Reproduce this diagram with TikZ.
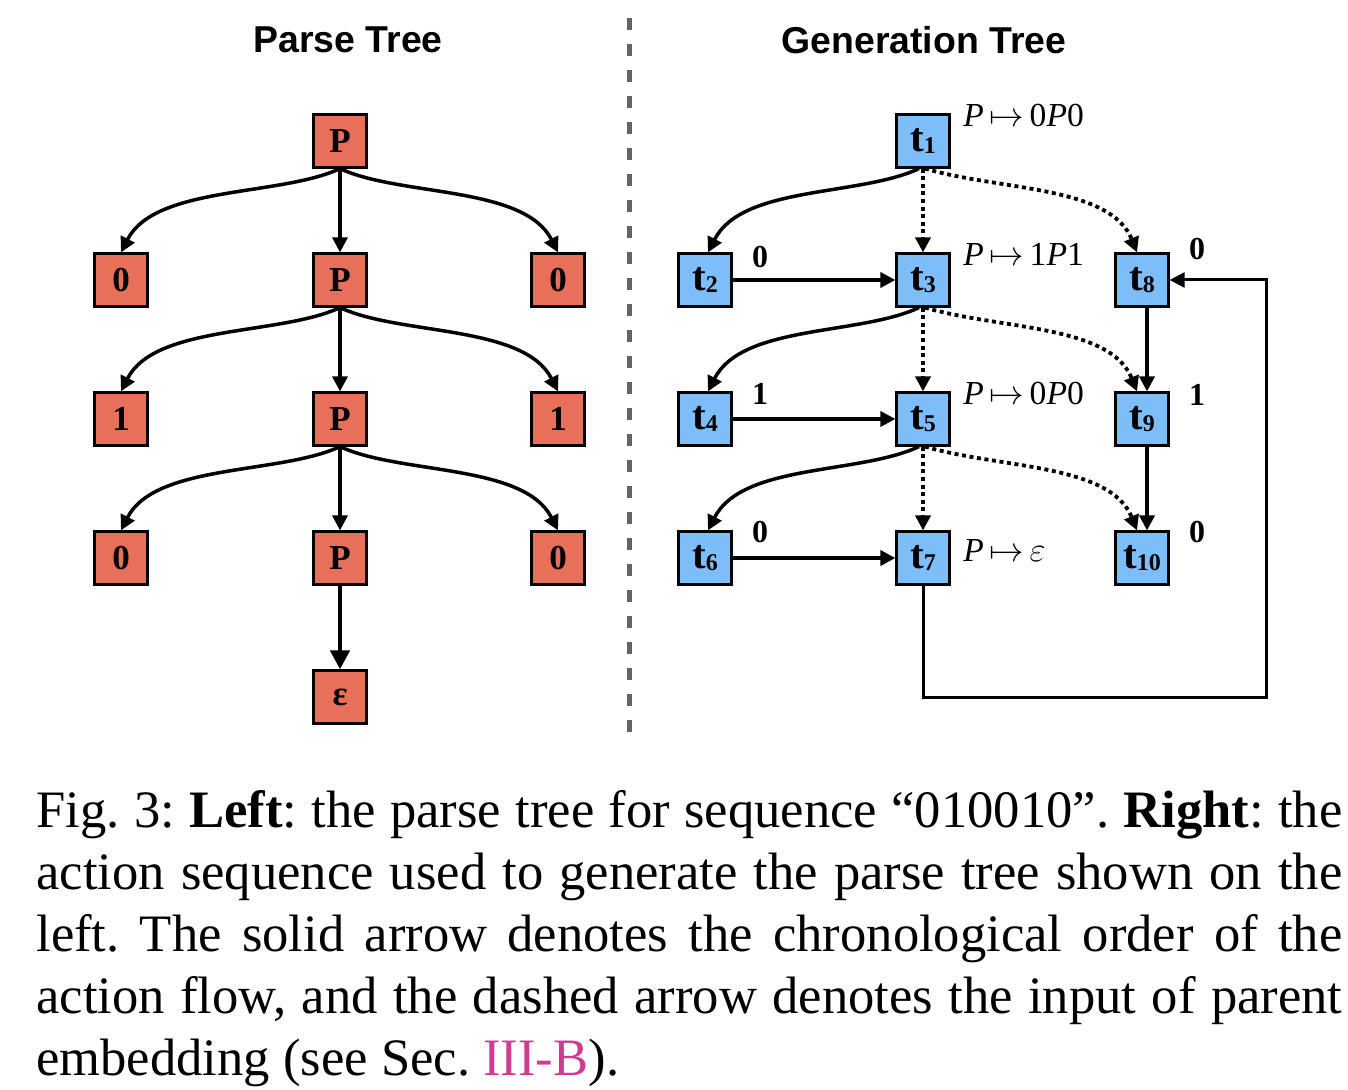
\documentclass[tikz,border=0pt]{standalone}
\usepackage{fontspec}
\setmainfont{Liberation Serif}
\newfontfamily\headfont{Liberation Sans}
\usetikzlibrary{arrows.meta}
\definecolor{parsered}{RGB}{232,111,90}
\definecolor{genblue}{RGB}{125,190,250}
\definecolor{linkpink}{RGB}{208,58,145}
\definecolor{divgray}{RGB}{100,100,100}
\newcommand{\tn}[1]{t\raisebox{-1pt}{\fontsize{12}{12}\selectfont #1}}
\begin{document}
\begin{tikzpicture}[x=0.5pt,y=-0.5pt,
    box/.style={draw=black,line width=1.3pt,minimum size=26.3pt,inner sep=0pt,font=\fontsize{17.5}{17.5}\selectfont\bfseries},
    pbox/.style={box,fill=parsered},
    gbox/.style={box,fill=genblue,font=\fontsize{20.5}{20.5}\selectfont\bfseries},
    edge/.style={line width=1.75pt,-{Triangle[length=7.5pt,width=7.5pt]}},
    parentedge/.style={edge,line width=1.9pt,dash pattern=on 2pt off 1.8pt},
    rule/.style={anchor=base west,inner sep=0pt,font=\fontsize{16.8}{16.8}\selectfont},
    bit/.style={inner sep=0pt,font=\fontsize{16}{16}\selectfont\bfseries},
    title/.style={font=\headfont\fontsize{18.7}{18.7}\selectfont\bfseries}]
    \useasboundingbox (0,0) rectangle (1348,1090);

    \node[title] (ptitle) at (348,40) {Parse Tree};
    \node[title] (gtitle) at (924,40) {Generation Tree};
    \draw[divgray,line width=2.5pt,dash pattern=on 6pt off 7pt] (629,18) -- (629,745);

    \node[pbox] (p1) at (340,141) {P};
    \node[pbox] (l1) at (121,280) {0};
    \node[pbox] (p2) at (340,280) {P};
    \node[pbox] (r1) at (558,280) {0};
    \node[pbox] (l2) at (121,419) {1};
    \node[pbox] (p3) at (340,419) {P};
    \node[pbox] (r2) at (558,419) {1};
    \node[pbox] (l3) at (121,558) {0};
    \node[pbox] (p4) at (340,558) {P};
    \node[pbox] (r3) at (558,558) {0};
    \node[pbox] (eps) at (340,697) {ε};

    \draw[edge] (p1.south) .. controls +(-60,28) and +(34,-67) .. (l1.north);
    \draw[edge] (p1.south) -- (p2.north);
    \draw[edge] (p1.south) .. controls +(60,28) and +(-34,-67) .. (r1.north);
    \draw[edge] (p2.south) .. controls +(-60,28) and +(34,-67) .. (l2.north);
    \draw[edge] (p2.south) -- (p3.north);
    \draw[edge] (p2.south) .. controls +(60,28) and +(-34,-67) .. (r2.north);
    \draw[edge] (p3.south) .. controls +(-60,28) and +(34,-67) .. (l3.north);
    \draw[edge] (p3.south) -- (p4.north);
    \draw[edge] (p3.south) .. controls +(60,28) and +(-34,-67) .. (r3.north);
    \draw[edge,line width=2.2pt,-{Triangle[length=9.5pt,width=9.5pt]}] (p4.south) -- (eps.north);

    \node[gbox] (t1) at (923,141) {\tn{1}};
    \node[gbox] (t2) at (705,280) {\tn{2}};
    \node[gbox] (t3) at (923,280) {\tn{3}};
    \node[gbox] (t8) at (1142,280) {\tn{8}};
    \node[gbox] (t4) at (705,419) {\tn{4}};
    \node[gbox] (t5) at (923,419) {\tn{5}};
    \node[gbox] (t9) at (1142,419) {\tn{9}};
    \node[gbox] (t6) at (705,558) {\tn{6}};
    \node[gbox] (t7) at (923,558) {\tn{7}};
    \node[gbox] (t10) at (1142,558) {\tn{10}};

    \node[rule] (rule1) at (963,127) {\textit{P}\,$\mapsto$\,0\textit{P}0};
    \node[rule] (rule3) at (963,266) {\textit{P}\,$\mapsto$\,1\textit{P}1};
    \node[rule] (rule5) at (963,405) {\textit{P}\,$\mapsto$\,0\textit{P}0};
    \node[rule] (rule7) at (963,561) {\textit{P}\,$\mapsto$\,$\varepsilon$};

    \node[bit] (b2) at (760,257) {0};
    \node[bit] (b4) at (760,394) {1};
    \node[bit] (b6) at (760,532) {0};
    \node[bit] (b8) at (1197,249) {0};
    \node[bit] (b9) at (1197,395) {1};
    \node[bit] (b10) at (1197,532) {0};

    \draw[edge] ([xshift=-2pt]t1.south) .. controls +(-60,28) and +(34,-67) .. ([xshift=1.5pt]t2.north);
    \draw[parentedge] (t1.south) -- (t3.north);
    \draw[parentedge] ([xshift=1pt]t1.south) .. controls +(75,22) and +(-27,-67) .. ([xshift=-2.5pt]t8.north);
    \draw[edge] (t2.east) -- (t3.west);
    \draw[edge] ([xshift=-2pt]t3.south) .. controls +(-60,28) and +(34,-67) .. ([xshift=1.5pt]t4.north);
    \draw[parentedge] (t3.south) -- (t5.north);
    \draw[parentedge] ([xshift=1pt]t3.south) .. controls +(75,22) and +(-27,-67) .. ([xshift=-2.5pt]t9.north);
    \draw[edge] ([xshift=2.5pt]t8.south) -- ([xshift=2.5pt]t9.north);
    \draw[edge] (t4.east) -- (t5.west);
    \draw[edge] ([xshift=-2pt]t5.south) .. controls +(-60,28) and +(34,-67) .. ([xshift=1.5pt]t6.north);
    \draw[parentedge] (t5.south) -- (t7.north);
    \draw[parentedge] ([xshift=1pt]t5.south) .. controls +(75,22) and +(-27,-67) .. ([xshift=-2.5pt]t10.north);
    \draw[edge] ([xshift=2.5pt]t9.south) -- ([xshift=2.5pt]t10.north);
    \draw[edge] (t6.east) -- (t7.west);
    \coordinate (turn) at (1266,697);
    \draw[edge,line width=1.5pt] (t7.south) |- (turn) |- (t8.east);

    \node[anchor=base west,text width=653pt,align=justify,inner sep=0pt,font=\fontsize{26.3}{31}\selectfont] (caption) at (36,827)
      {\frenchspacing Fig. 3: \textbf{Left}: the parse tree for sequence “010010”. \textbf{Right}: the\linebreak
      action sequence used to generate the parse tree shown on the\linebreak
      left. The solid arrow denotes the chronological order of the\linebreak
      action flow, and the dashed arrow denotes the input of parent\linebreak
      embedding (see Sec. \textcolor{linkpink}{III-B}).};
\end{tikzpicture}
\end{document}
